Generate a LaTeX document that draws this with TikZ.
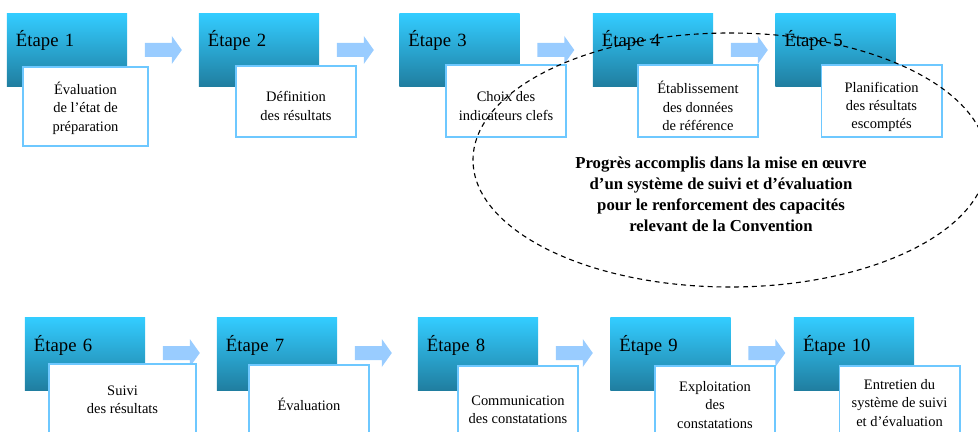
\documentclass[tikz,border=0pt]{standalone}
\usepackage{fontspec}
\setmainfont{Liberation Serif}
\definecolor{steptop}{RGB}{51,204,255}
\definecolor{stepbot}{RGB}{32,126,160}
\definecolor{boxline}{RGB}{110,200,255}
\definecolor{flowblue}{RGB}{153,204,255}
\begin{document}
\begin{tikzpicture}[x=0.025cm,y=-0.025cm,
    stephead/.style={top color=steptop, bottom color=stepbot, draw=none,
      minimum width=3cm, minimum height=1.8cm, text width=2.55cm,
      inner xsep=0.225cm, inner ysep=0pt, text height=0.825cm,
      text depth=0.975cm, align=left, font=\fontsize{13.3}{16}\selectfont},
    whitebox/.style={draw=boxline, line width=1.4pt, fill=white,
      minimum width=3cm, minimum height=1.8cm, inner sep=0pt},
    boxtext/.style={align=center, inner sep=0pt,
      font=\fontsize{10.3}{13.1}\selectfont},
    goaltext/.style={align=center, inner sep=0pt,
      font=\bfseries\fontsize{11.9}{14.9}\selectfont},
    flow/.style={fill=flowblue},
    ring/.style={draw, dash pattern=on 3.5pt off 2.8pt, line width=0.8pt}]
  \useasboundingbox (0,0) rectangle (978,432);
  \clip (0,0) rectangle (978,432);
  \node (s1) at (67,50) [stephead] {Étape 1};
  \node (s2) at (259,50) [stephead] {Étape 2};
  \node (s3) at (459.5,50) [stephead] {Étape 3};
  \node (s4) at (653,50) [stephead] {Étape 4};
  \node (s5) at (835.5,50) [stephead] {Étape 5};
  \node (s6) at (85,354) [stephead] {Étape 6};
  \node (s7) at (277,354) [stephead] {Étape 7};
  \node (s8) at (478,354) [stephead] {Étape 8};
  \node (s9) at (670.5,354) [stephead] {Étape 9};
  \node (s10) at (854,354) [stephead] {Étape 10};
  \fill[flow] ([shift={(17.5,-7)}]s1.east) -- ++(27,0) -- ++(0,-7) -- ++(10,14) -- ++(-10,14) -- ++(0,-7) -- ++(-27,0) -- cycle;
  \fill[flow] ([shift={(17.5,-7)}]s2.east) -- ++(27,0) -- ++(0,-7) -- ++(10,14) -- ++(-10,14) -- ++(0,-7) -- ++(-27,0) -- cycle;
  \fill[flow] ([shift={(17.5,-7)}]s3.east) -- ++(27,0) -- ++(0,-7) -- ++(10,14) -- ++(-10,14) -- ++(0,-7) -- ++(-27,0) -- cycle;
  \fill[flow] ([shift={(17.5,-7)}]s4.east) -- ++(27,0) -- ++(0,-7) -- ++(10,14) -- ++(-10,14) -- ++(0,-7) -- ++(-27,0) -- cycle;
  \fill[flow] ([shift={(17.5,-8)}]s6.east) -- ++(27,0) -- ++(0,-7) -- ++(10,14) -- ++(-10,14) -- ++(0,-7) -- ++(-27,0) -- cycle;
  \fill[flow] ([shift={(17.5,-8)}]s7.east) -- ++(27,0) -- ++(0,-7) -- ++(10,14) -- ++(-10,14) -- ++(0,-7) -- ++(-27,0) -- cycle;
  \fill[flow] ([shift={(17.5,-8)}]s8.east) -- ++(27,0) -- ++(0,-7) -- ++(10,14) -- ++(-10,14) -- ++(0,-7) -- ++(-27,0) -- cycle;
  \fill[flow] ([shift={(17.5,-8)}]s9.east) -- ++(27,0) -- ++(0,-7) -- ++(10,14) -- ++(-10,14) -- ++(0,-7) -- ++(-27,0) -- cycle;
  \node (b1) at (85.5,106.5) [whitebox, minimum width=3.125cm, minimum height=1.975cm] {};
  \node (b2) at (296,101.5) [whitebox, minimum height=1.775cm] {};
  \node (b3) at (506,101) [whitebox] {};
  \node (b4) at (698,101) [whitebox] {};
  \node (b5) at (881.5,101) [whitebox] {};
  \node (b6) at (122.5,400) [whitebox, minimum width=3.675cm] {};
  \node (b7) at (309,401) [whitebox] {};
  \node (b8) at (518,402) [whitebox] {};
  \node (b9) at (715,402) [whitebox] {};
  \node (b10) at (899.5,402) [whitebox] {};
  \node (t1) at (85.5,108) [boxtext] {Évaluation\\de l’état de\\préparation};
  \node (t2) at (296,106) [boxtext] {Définition\\des résultats};
  \node (t3) at (506,106) [boxtext] {Choix des\\indicateurs clefs};
  \node (t4) at (698,106) [boxtext] {Établissement\\des données\\de référence};
  \node (t5) at (881.5,107) [boxtext] {Planification\\des résultats\\escomptés};
  \node (t6) at (122.5,400) [boxtext] {Suivi\\des résultats};
  \node (t7) at (309,404) [boxtext] {Évaluation};
  \node (t8) at (518,410) [boxtext] {Communication\\des constatations};
  \node (t9) at (715,405) [boxtext] {Exploitation\\des\\constatations};
  \node (t10) at (899.5,403) [boxtext] {Entretien du\\système de suivi\\et d’évaluation};
  \node (goal) at (721,194) [goaltext] {Progrès accomplis dans la mise en œuvre\\d’un système de suivi et d’évaluation\\pour le renforcement des capacités\\relevant de la Convention};
  \draw[ring] (730,160) ellipse [x radius=257, y radius=127];
\end{tikzpicture}
\end{document}
